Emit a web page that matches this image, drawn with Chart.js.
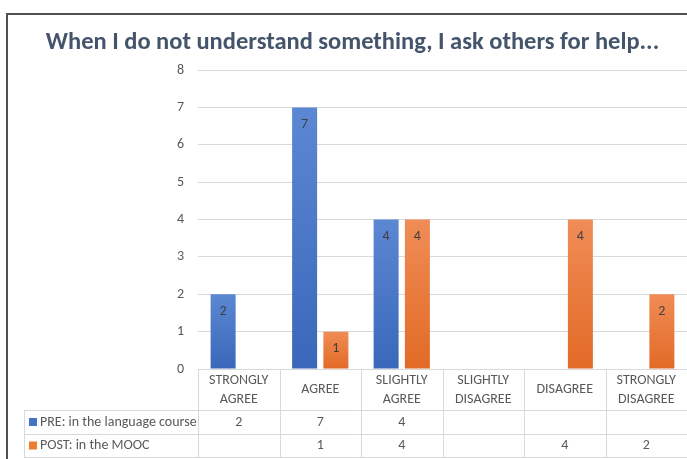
<!DOCTYPE html>
<html>
<head>
<meta charset="utf-8">
<script src="https://cdn.jsdelivr.net/npm/chart.js@4.4.1/dist/chart.umd.min.js"></script>
<style>
  html, body { margin: 0; padding: 0; background: #fff; }
  #wrap { width: 687px; height: 459px; position: relative; }
</style>
</head>
<body>
<div id="wrap"><canvas id="c" width="687" height="459"></canvas></div>
<script>
const chartTitle = 'When I do not understand something, I ask others for help...';
const categories = [
  ['STRONGLY', 'AGREE'],
  ['AGREE'],
  ['SLIGHTLY', 'AGREE'],
  ['SLIGHTLY', 'DISAGREE'],
  ['DISAGREE'],
  ['STRONGLY', 'DISAGREE']
];
const seriesNames = ['PRE: in the language course', 'POST: in the MOOC'];
const preValues = [2, 7, 4, null, null, null];
const postValues = [null, 1, 4, null, 4, 2];
const yTicks = [0, 1, 2, 3, 4, 5, 6, 7, 8];

const FONT = "Carlito, Calibri, 'Lato', sans-serif";
const TEXT = '#595959';
const GRID = '#D9D9D9';

function barGradient(top, bottom) {
  return function (ctx) {
    const chart = ctx.chart;
    const ys = chart.scales && chart.scales.y;
    if (!chart.chartArea || !ys || ctx.raw == null) return bottom;
    const y0 = ys.getPixelForValue(ctx.raw);
    const y1 = ys.getPixelForValue(0);
    if (!isFinite(y0) || !isFinite(y1) || y0 === y1) return bottom;
    const g = chart.ctx.createLinearGradient(0, y0, 0, y1);
    g.addColorStop(0, top);
    g.addColorStop(1, bottom);
    return g;
  };
}

const swatches = ['#4472C4', '#ED7D31'];

const framePlugin = {
  id: 'frame',
  beforeDraw(chart) {
    const c = chart.ctx;
    c.save();
    c.fillStyle = '#fff';
    c.fillRect(0, 0, chart.width, chart.height);
    c.strokeStyle = '#505050';
    c.lineWidth = 2;
    c.beginPath();
    c.moveTo(7, chart.height);
    c.lineTo(7, 14);
    c.lineTo(chart.width, 14);
    c.stroke();
    // title
    c.fillStyle = '#44546A';
    c.font = "bold 24.5px " + FONT;
    c.textAlign = 'center';
    c.textBaseline = 'middle';
    c.fillText(chartTitle, 352.5, 43);
    c.restore();
  }
};

const labelPlugin = {
  id: 'valueLabels',
  afterDatasetsDraw(chart) {
    const c = chart.ctx;
    c.save();
    c.font = "14px " + FONT;
    c.fillStyle = '#404040';
    c.textAlign = 'center';
    c.textBaseline = 'middle';
    chart.data.datasets.forEach((ds, di) => {
      const meta = chart.getDatasetMeta(di);
      meta.data.forEach((el, i) => {
        const v = ds.data[i];
        if (v == null) return;
        c.fillText(String(v), el.x, el.y + 17);
      });
    });
    c.restore();
  }
};

const tablePlugin = {
  id: 'dataTable',
  afterDraw(chart) {
    const c = chart.ctx;
    const xs = chart.scales.x;
    const area = chart.chartArea;
    const n = categories.length;
    const w = (xs.getPixelForValue(n - 1) - xs.getPixelForValue(0)) / (n - 1);
    const left0 = xs.getPixelForValue(0) - w / 2;
    const yTop = area.bottom;
    const yHead = yTop + 41;
    const yRow1 = yHead + 24;
    const yRow2 = yRow1 + 23;
    const tableLeft = 24;
    c.save();
    c.strokeStyle = GRID;
    c.lineWidth = 1;
    c.beginPath();
    [yHead, yRow1, yRow2].forEach(y => {
      c.moveTo(tableLeft, Math.round(y) + 0.5);
      c.lineTo(chart.width, Math.round(y) + 0.5);
    });
    for (let i = 0; i <= n; i++) {
      const x = Math.round(left0 + i * w) + 0.5;
      c.moveTo(x, yTop);
      c.lineTo(x, yRow2);
    }
    c.moveTo(tableLeft + 0.5, yHead);
    c.lineTo(tableLeft + 0.5, yRow2);
    c.stroke();

    c.fillStyle = TEXT;
    c.font = "14px " + FONT;
    c.textAlign = 'center';
    c.textBaseline = 'middle';
    categories.forEach((lines, i) => {
      const cx = xs.getPixelForValue(i);
      const mid = (yTop + yHead) / 2;
      const lh = 19;
      lines.forEach((t, k) => {
        c.fillText(t, cx, mid + (k - (lines.length - 1) / 2) * lh);
      });
    });
    const rows = [preValues, postValues];
    const rowMid = [(yHead + yRow1) / 2, (yRow1 + yRow2) / 2];
    rows.forEach((vals, r) => {
      vals.forEach((v, i) => {
        if (v == null) return;
        c.fillText(String(v), xs.getPixelForValue(i), rowMid[r]);
      });
      c.fillStyle = swatches[r];
      c.fillRect(tableLeft + 5, rowMid[r] - 4, 8, 8);
      c.fillStyle = TEXT;
      c.textAlign = 'left';
      c.fillText(seriesNames[r], tableLeft + 16, rowMid[r]);
      c.textAlign = 'center';
    });
    c.restore();
  }
};

new Chart(document.getElementById('c'), {
  type: 'bar',
  data: {
    labels: categories.map(l => l.join(' ')),
    datasets: [
      {
        label: seriesNames[0],
        data: preValues,
        backgroundColor: barGradient('#5B87D3', '#3B67BA'),
        barPercentage: 0.8,
        categoryPercentage: 0.767
      },
      {
        label: seriesNames[1],
        data: postValues,
        backgroundColor: barGradient('#F08C56', '#E26A26'),
        barPercentage: 0.8,
        categoryPercentage: 0.767
      }
    ]
  },
  options: {
    responsive: false,
    animation: false,
    layout: { padding: { top: 70, bottom: 90, left: 0, right: 0 } },
    plugins: {
      legend: { display: false },
      title: { display: false },
      tooltip: { enabled: false }
    },
    scales: {
      x: {
        display: false
      },
      y: {
        min: 0,
        max: 8,
        afterFit(scale) { scale.width = 198; },
        afterBuildTicks(scale) { scale.ticks = yTicks.map(v => ({ value: v })); },
        border: { display: false },
        grid: { color: GRID, drawTicks: false, lineWidth: 1 },
        ticks: {
          padding: 14,
          color: TEXT,
          font: { family: FONT, size: 14 }
        }
      }
    }
  },
  plugins: [framePlugin, labelPlugin, tablePlugin]
});
</script>
</body>
</html>
